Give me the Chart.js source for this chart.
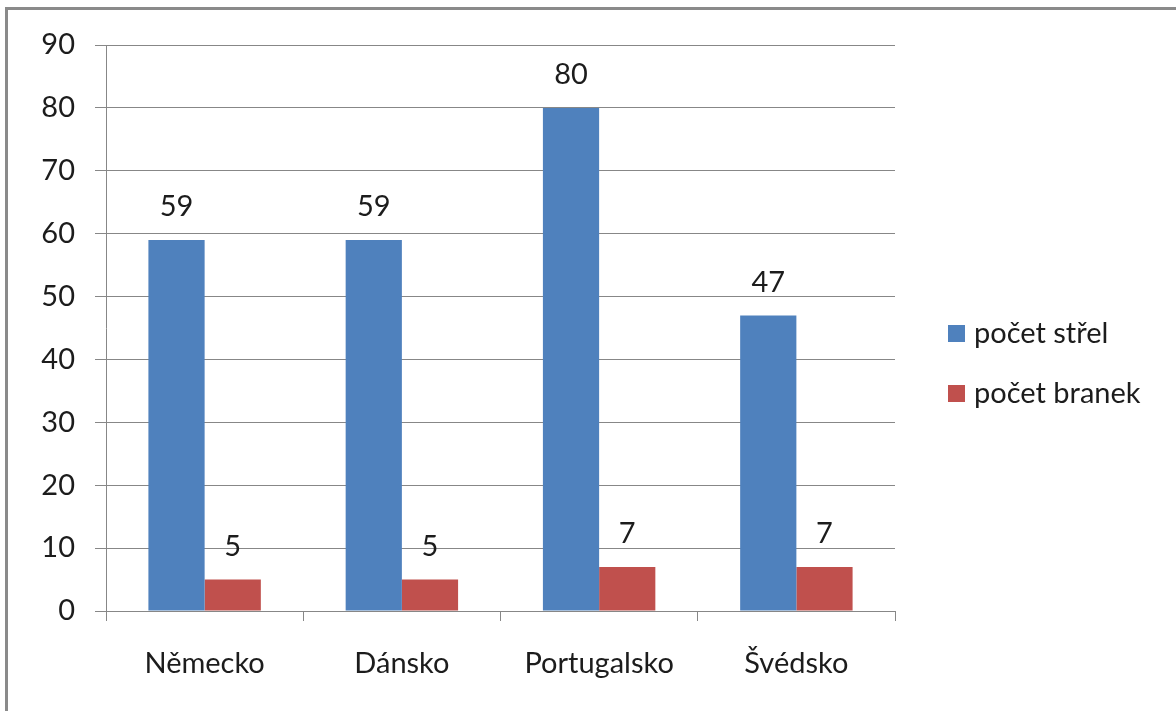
<!DOCTYPE html>
<html lang="cs">
<head>
    <meta charset="UTF-8">
    <title>Střely a branky</title>
    <style>
        html, body { margin: 0; padding: 0; background: #fff; }
        #wrap { width: 1176px; height: 711px; }
    </style>
</head>
<body>
    <div id="wrap"><canvas id="chart" width="1176" height="711"></canvas></div>
    <script src="https://cdn.jsdelivr.net/npm/chart.js@4/dist/chart.umd.min.js"></script>
    <script>
        // data
        var countries = ['Německo', 'Dánsko', 'Portugalsko', 'Švédsko'];
        var seriesNames = ['počet střel', 'počet branek'];
        var shots = [59, 59, 80, 47];
        var goals = [5, 5, 7, 7];
        var yTicks = [0, 10, 20, 30, 40, 50, 60, 70, 80, 90];

        var FONT = "Lato, 'Liberation Sans', sans-serif";
        var FSIZE = 29;
        var TEXT = '#1c1c1c';
        var GRID = '#878787';

        // grey frame round the whole chart
        var framePlugin = {
            id: 'frame',
            beforeDraw: function (chart) {
                var ctx = chart.ctx;
                ctx.save();
                ctx.strokeStyle = '#8a8a8a';
                ctx.lineWidth = 3;
                ctx.strokeRect(6.5, 8.5, chart.width + 20, chart.height + 20);
                ctx.restore();
            }
        };

        // numbers above the bars
        var valueLabels = {
            id: 'valueLabels',
            afterDatasetsDraw: function (chart) {
                var ctx = chart.ctx;
                ctx.save();
                ctx.font = FSIZE + 'px ' + FONT;
                ctx.fillStyle = TEXT;
                ctx.textAlign = 'center';
                ctx.textBaseline = 'middle';
                chart.data.datasets.forEach(function (ds, i) {
                    chart.getDatasetMeta(i).data.forEach(function (bar, j) {
                        ctx.fillText(String(ds.data[j]), bar.x, bar.y - 33);
                    });
                });
                ctx.restore();
            }
        };

        // legend on the right, drawn by hand so its place is fixed
        var sideLegend = {
            id: 'sideLegend',
            afterDraw: function (chart) {
                var ctx = chart.ctx;
                ctx.save();
                ctx.font = FSIZE + 'px ' + FONT;
                ctx.textBaseline = 'middle';
                chart.data.datasets.forEach(function (ds, i) {
                    var y = 333 + i * 60;
                    ctx.fillStyle = ds.backgroundColor;
                    ctx.fillRect(948, y - 8, 17, 17);
                    ctx.fillStyle = TEXT;
                    ctx.fillText(ds.label, 974, y + 1);
                });
                ctx.restore();
            }
        };

        new Chart(document.getElementById('chart'), {
            type: 'bar',
            data: {
                labels: countries,
                datasets: [
                    { label: seriesNames[0], data: shots, backgroundColor: '#4F81BD' },
                    { label: seriesNames[1], data: goals, backgroundColor: '#C0504D' }
                ]
            },
            options: {
                responsive: false,
                animation: false,
                layout: { padding: { top: 45, right: 281, bottom: 0, left: 0 } },
                datasets: { bar: { barPercentage: 1, categoryPercentage: 0.57 } },
                plugins: {
                    legend: { display: false },
                    tooltip: { enabled: false }
                },
                scales: {
                    x: {
                        offset: true,
                        grid: {
                            offset: true,
                            drawOnChartArea: false,
                            drawTicks: true,
                            tickLength: 10,
                            color: GRID
                        },
                        border: { color: GRID },
                        ticks: {
                            color: TEXT,
                            font: { family: FONT, size: FSIZE },
                            padding: 25,
                            maxRotation: 0
                        },
                        afterFit: function (s) { s.height = 100; }
                    },
                    y: {
                        min: yTicks[0],
                        max: yTicks[yTicks.length - 1],
                        afterBuildTicks: function (s) {
                            s.ticks = yTicks.map(function (v) { return { value: v }; });
                        },
                        grid: { color: GRID, tickLength: 11 },
                        border: { color: GRID },
                        ticks: {
                            color: TEXT,
                            font: { family: FONT, size: FSIZE },
                            padding: 20
                        },
                        afterFit: function (s) { s.width = 106; }
                    }
                }
            },
            plugins: [framePlugin, valueLabels, sideLegend]
        });
    </script>
</body>
</html>
